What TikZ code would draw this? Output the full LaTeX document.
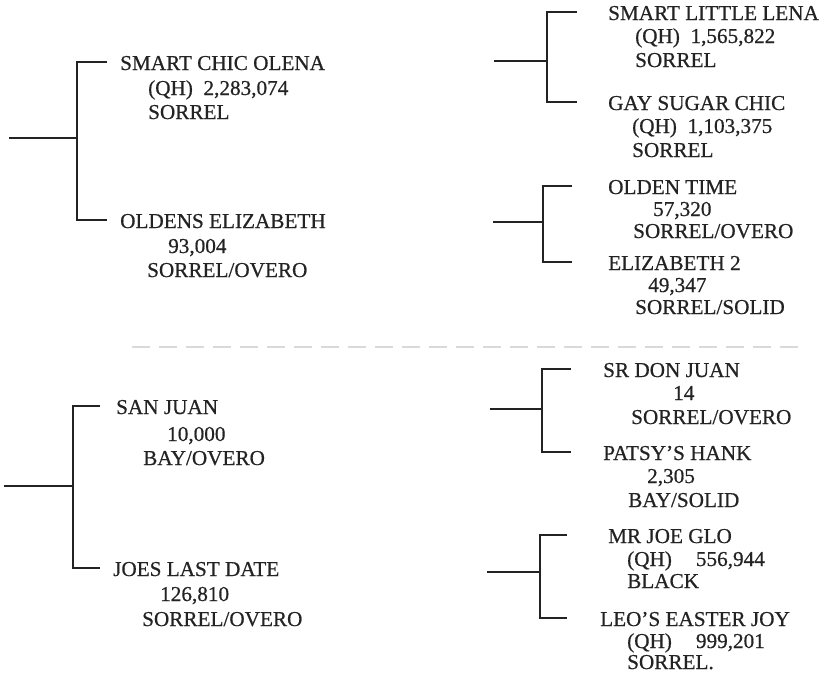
\documentclass[tikz,border=0pt]{standalone}
\usepackage{fontspec}
\setmainfont{Liberation Serif}[FakeBold=0.6]
\usepackage{xcolor}
\usepackage{tikz}
\usetikzlibrary{calc}
\definecolor{ink}{RGB}{35,35,35}
% one horse: id, name, position, second line, position, third line, position
\newcommand{\horse}[7]{%
  \node[hname] (#1) at (#3) {#2};
  \node[hinfo] (#1-b) at (#5) {#4};
  \node[hinfo] (#1-c) at (#7) {#6};}

\begin{document}
\begin{tikzpicture}[
    x=1pt, y=-1pt,
    hname/.style={anchor=base west, inner sep=0pt, text=ink, text height=16pt, text depth=0pt, font=\fontsize{21.2}{24}\selectfont},
    hinfo/.style={anchor=base west, inner sep=0pt, text=ink, font=\fontsize{21.2}{24}\selectfont},
    tree/.style={draw=ink, line width=1.6pt},
    fold/.style={draw=black!15, line width=1.2pt, dash pattern=on 18pt off 9pt}
]
\useasboundingbox (0,0) rectangle (833,673);

% Parents
\horse{olena}{SMART CHIC OLENA}{120,70}{(QH)~~2,283,074}{148,95}{SORREL}{148,119}
\horse{elizabeth}{OLDENS ELIZABETH}{120,228}{93,004}{168,253}{SORREL/OVERO}{147,277}
\horse{sanjuan}{SAN JUAN}{116,414}{10,000}{167,441}{BAY/OVERO}{143,465}
\horse{joes}{JOES LAST DATE}{113,576}{126,810}{160,601}{SORREL/OVERO}{142,626}

% Grandparents
\horse{lena}{SMART LITTLE LENA}{608,20}{(QH)~~1,565,822}{635,43}{SORREL}{635,67}
\horse{sugar}{GAY SUGAR CHIC}{608,110}{(QH)~~1,103,375}{632,133}{SORREL}{632,157}
\horse{olden}{OLDEN TIME}{608,194}{57,320}{653,216}{SORREL/OVERO}{633,238}
\horse{eliz}{ELIZABETH 2}{608,270}{49,347}{648,292}{SORREL/SOLID}{635,314}
\horse{donjuan}{SR DON JUAN}{603,377}{14}{673,400}{SORREL/OVERO}{631,424}
\horse{patsy}{PATSY'S HANK}{603,460}{2,305}{647,483}{BAY/SOLID}{628,507}
\horse{joeglo}{MR JOE GLO}{608,543}{(QH)\hspace{24pt}556,944}{627,566}{BLACK}{627,588}
\horse{easter}{LEO'S EASTER JOY}{600,626}{(QH)\hspace{24pt}999,201}{627,648}{SORREL.}{627,669}

% Stems and junctions
\coordinate (s1) at (9,138);   \coordinate (j1) at (77,138);
\coordinate (s2) at (494,61);  \coordinate (j2) at (547,61);
\coordinate (s3) at (493,222); \coordinate (j3) at (543,222);
\coordinate (s4) at (4,486);   \coordinate (j4) at (73,486);
\coordinate (s5) at (490,409); \coordinate (j5) at (542,409);
\coordinate (s6) at (487,572); \coordinate (j6) at (540,572);

% Brackets
\draw[tree] (s1) -- (j1) ($(j1 |- olena.west)+(30,0)$) -| (j1) |- ($(j1 |- elizabeth.west)+(30,0)$);
\draw[tree] (s2) -- (j2) ($(j2 |- lena.west)+(30,0)$) -| (j2) |- ($(j2 |- sugar.west)+(30,0)$);
\draw[tree] (s3) -- (j3) ($(j3 |- olden.west)+(29,0)$) -| (j3) |- ($(j3 |- eliz.west)+(29,0)$);
\draw[tree] (s4) -- (j4) ($(j4 |- sanjuan.west)+(27,0)$) -| (j4) |- ($(j4 |- joes.west)+(27,0)$);
\draw[tree] (s5) -- (j5) ($(j5 |- donjuan.west)+(29,0)$) -| (j5) |- ($(j5 |- patsy.west)+(29,0)$);
\draw[tree] (s6) -- (j6) ($(j6 |- joeglo.west)+(27,0)$) -| (j6) |- ($(j6 |- easter.west)+(27,0)$);

% Faint fold across the page
\coordinate (fold-l) at (132,347);
\coordinate (fold-r) at (798,347);
\draw[fold] (fold-l) -- (fold-r);
\end{tikzpicture}
\end{document}
